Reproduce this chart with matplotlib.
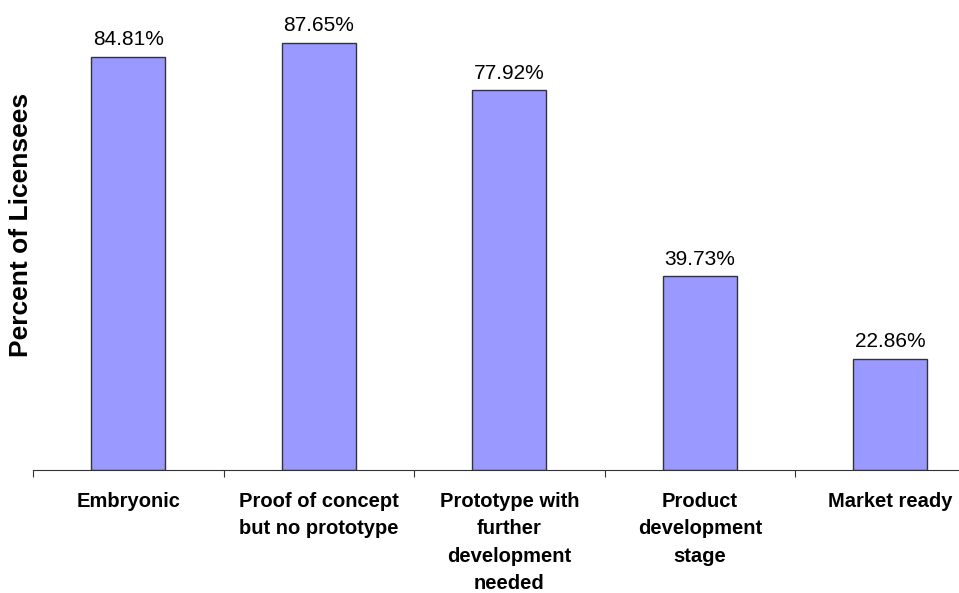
import numpy as np
import matplotlib
matplotlib.use("Agg")
import matplotlib.pyplot as plt

plt.rcParams['font.family'] = ['Liberation Sans', 'DejaVu Sans']

categories = ["Embryonic", "Proof of concept\nbut no prototype",
              "Prototype with\nfurther\ndevelopment\nneeded",
              "Product\ndevelopment\nstage", "Market ready"]
values = [84.81, 87.65, 77.92, 39.73, 22.86]
value_labels = ["84.81%", "87.65%", "77.92%", "39.73%", "22.86%"]

fig = plt.figure(figsize=(9.59, 5.93), dpi=100)
ax = fig.add_axes([33/959, 123/593, 952.5/959, 470/593])

x = np.arange(len(categories))
ax.bar(x, values, width=0.39, color="#9999FF", edgecolor="#333333", linewidth=1)

for xi, v, lab in zip(x, values, value_labels):
    ax.text(xi, v + 1.6, lab, ha="center", va="bottom", fontsize=15)

ax.set_xlim(-0.5, len(categories) - 0.5)
ax.set_ylim(0, 96.5)

for s in ["top", "right", "left"]:
    ax.spines[s].set_visible(False)
ax.spines["bottom"].set_color("#333333")
ax.set_yticks([])

# tick marks between categories, labels centred under bars
ax.set_xticks(np.arange(-0.5, len(categories), 1.0))
ax.set_xticklabels([])
ax.tick_params(axis="x", length=5, color="#333333")
for xi, cat in zip(x, categories):
    ax.text(xi, -4.5, cat, ha="center", va="top", fontsize=14.5,
            fontweight="bold", linespacing=1.56, transform=ax.transData)

fig.text(21/959, 1 - 225/593, "Percent of Licensees", rotation=90,
         ha="center", va="center", fontsize=19, fontweight="bold")

fig.savefig("out.png", dpi=100)
